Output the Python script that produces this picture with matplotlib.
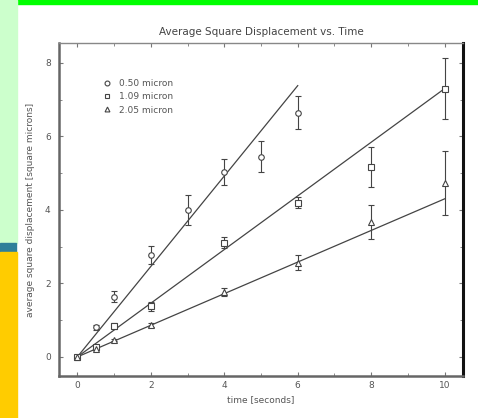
import numpy as np
import matplotlib.pyplot as plt
from matplotlib.lines import Line2D

# mean square displacement data
t_small = [0, 0.5, 1, 2, 3, 4, 5, 6]
msd_small = [0, 0.8, 1.63, 2.78, 4.0, 5.03, 5.45, 6.64]
err_small = [0, 0.08, 0.15, 0.25, 0.4, 0.35, 0.42, 0.45]

t_mid = [0, 0.5, 1, 2, 4, 6, 8, 10]
msd_mid = [0, 0.27, 0.84, 1.38, 3.1, 4.19, 5.17, 7.3]
err_mid = [0, 0.04, 0.08, 0.12, 0.15, 0.15, 0.55, 0.82]

t_big = [0, 0.5, 1, 2, 4, 6, 8, 10]
msd_big = [0, 0.22, 0.46, 0.87, 1.77, 2.56, 3.67, 4.73]
err_big = [0, 0.03, 0.04, 0.05, 0.1, 0.2, 0.47, 0.88]

# fitted slopes and end times of the straight lines
slopes = [1.23, 0.73, 0.43]
fit_end = [6, 10, 10]
labels = ['0.50 micron', '1.09 micron', '2.05 micron']
markers = ['o', 's', '^']

ink = '#444444'

fig = plt.figure(figsize=(4.78, 4.18), dpi=100)
fig.patch.set_facecolor('white')

# slide decoration: green top bar and left panels
fig.add_artist(plt.Rectangle((17/478, 1 - 4/418), 1, 4/418, color='#00ff00', transform=fig.transFigure))
fig.add_artist(plt.Rectangle((0, 1 - 243/418), 17/478, 243/418, color='#ccffcc', transform=fig.transFigure))
fig.add_artist(plt.Rectangle((0, 1 - 252/418), 16/478, 9/418, color='#2e7f99', transform=fig.transFigure))
fig.add_artist(plt.Rectangle((0, 0), 17/478, 1 - 252/418, color='#ffcc00', transform=fig.transFigure))

ax = fig.add_axes([59/478, 1 - 376/418, 404/478, 333/418])

series = [(t_small, msd_small, err_small),
          (t_mid, msd_mid, err_mid),
          (t_big, msd_big, err_big)]

for (t, y, e), m, s, end in zip(series, markers, slopes, fit_end):
    ax.errorbar(t, y, yerr=e, fmt=m, mfc='white', mec=ink, ms=4, mew=0.8,
                ecolor=ink, elinewidth=0.8, capsize=2, capthick=0.8)
    tt = np.array([0, end])
    ax.plot(tt, s * tt, color=ink, lw=0.9)

ax.set_xlim(-0.5, 10.5)
ax.set_ylim(-0.52, 8.54)
ax.set_xticks(range(0, 11, 2))
ax.set_xticks(range(1, 11, 2), minor=True)
ax.set_yticks(range(0, 9, 2))
ax.set_yticks(range(1, 9, 2), minor=True)
ax.tick_params(which='both', direction='in', top=True, right=True,
               labelsize=6.5, labelcolor='#555555', color='#777777')
ax.tick_params(which='major', length=3)
ax.tick_params(which='minor', length=2)
ax.tick_params(axis='y', pad=6)

for side in ['left', 'bottom']:
    ax.spines[side].set_linewidth(1.8)
    ax.spines[side].set_color('#666666')
ax.spines['top'].set_linewidth(1.0)
ax.spines['top'].set_color('#888888')
ax.spines['right'].set_linewidth(2.2)
ax.spines['right'].set_color('#111111')

ax.set_title('Average Square Displacement vs. Time', fontsize=7.5, color='#444444', pad=6)
ax.set_xlabel('time [seconds]', fontsize=6.5, color='#555555', labelpad=4)
ax.set_ylabel('average square displacement [square microns]', fontsize=6.5, color='#555555', labelpad=7)

handles = [Line2D([], [], ls='none', marker=m, mfc='white', mec=ink, ms=3.5, mew=0.8)
           for m in markers]
ax.legend(handles, labels, loc='upper left', bbox_to_anchor=(0.09, 0.915), frameon=False,
          fontsize=6.5, labelcolor='#555555', handlelength=0.8, handletextpad=0.9,
          labelspacing=0.45)

fig.savefig('out.png', dpi=100)
